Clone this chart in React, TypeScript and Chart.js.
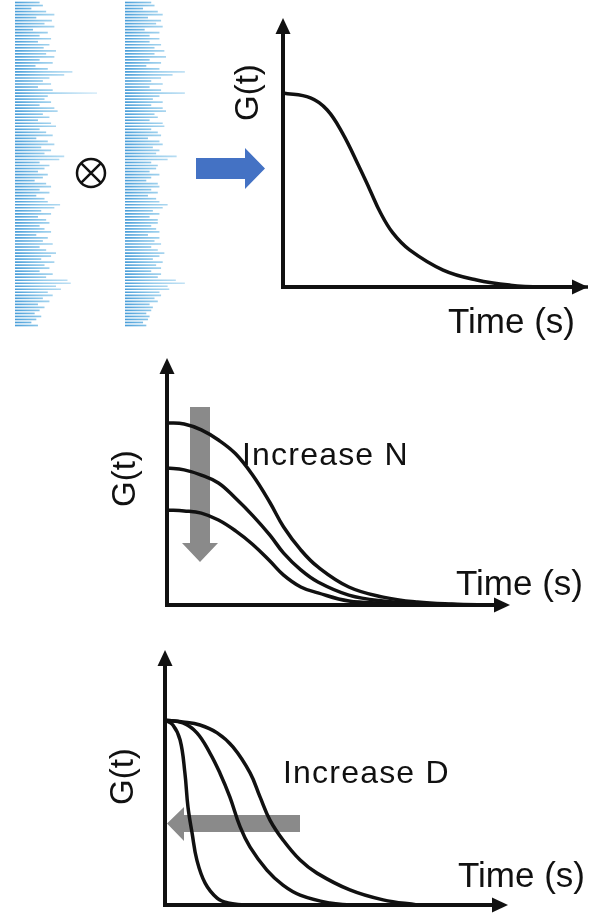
import React, { useEffect, useRef } from "react";
import { Chart, registerables } from "chart.js";

Chart.register(...registerables);

// Fluorescence intensity traces (arbitrary units, 0-100), one sample per time step
const traceA = [
  30, 34, 20, 38, 48, 26, 45, 36, 48, 22, 40, 30, 44, 28, 42, 35, 50, 38, 48, 30,
  46, 25, 40, 70, 60, 42, 34, 44, 28, 46, 100, 40, 36, 44, 30, 48, 52, 34, 42, 28,
  44, 50, 30, 38, 46, 26, 40, 48, 32, 44, 36, 60, 54, 30, 42, 36, 28, 40, 34, 24,
  38, 44, 30, 42, 26, 36, 40, 55, 48, 32, 44, 28, 38, 42, 30, 36, 44, 26, 40, 34,
  46, 30, 38, 50, 44, 32, 48, 36, 42, 30, 46, 38, 64, 68, 50, 56, 40, 46, 34, 42,
  28, 36, 30, 24, 32, 26, 20, 28,
];
const traceB = [
  32, 36, 22, 40, 46, 28, 44, 38, 46, 24, 42, 30, 42, 30, 44, 36, 48, 36, 50, 30,
  44, 26, 42, 73, 58, 44, 32, 46, 30, 44, 73, 42, 34, 46, 32, 46, 50, 36, 40, 30,
  46, 48, 32, 40, 44, 28, 42, 46, 34, 42, 38, 63, 52, 32, 40, 38, 30, 42, 32, 26,
  40, 42, 32, 40, 28, 38, 42, 52, 46, 34, 42, 30, 40, 40, 32, 38, 42, 28, 42, 36,
  44, 32, 40, 48, 42, 34, 46, 38, 44, 32, 44, 40, 62, 73, 52, 54, 42, 44, 36, 40,
  30, 34, 32, 26, 30, 28, 22, 26,
];

// Single autocorrelation curve G(t)
const singleTime = [0, 0.9, 1.45, 1.95, 2.5, 2.85, 3.2, 3.6, 4.15, 5.25, 6.35, 7.45, 8.5, 10];
const singleG = [0.721, 0.703, 0.658, 0.572, 0.446, 0.361, 0.275, 0.201, 0.138, 0.063, 0.026, 0.007, 0, 0];

// G(t) for three particle numbers N (low, mid, high)
const nTime = [0, 0.5, 1, 1.5, 2, 2.5, 3, 3.4, 3.9, 4.4, 5.3, 6.3, 7.3, 8.3, 9.5];
const nLowG = [0.737, 0.733, 0.709, 0.668, 0.612, 0.525, 0.415, 0.316, 0.223, 0.154, 0.073, 0.032, 0.012, 0.004, 0];
const nMidG = [0.555, 0.547, 0.526, 0.494, 0.432, 0.362, 0.283, 0.21, 0.142, 0.093, 0.04, 0.016, 0.008, 0.002, 0];
const nHighG = [0.385, 0.381, 0.372, 0.344, 0.3, 0.245, 0.178, 0.121, 0.073, 0.049, 0.016, 0.008, 0.003, 0.001, 0];

// G(t) for three diffusion coefficients D (fast, mid, slow)
const dFastTime = [0, 0.23, 0.44, 0.58, 0.67, 0.79, 0.93, 1.17, 1.52, 1.84, 2.3];
const dFastG = [0.725, 0.706, 0.647, 0.518, 0.384, 0.282, 0.176, 0.086, 0.027, 0.008, 0];
const dMidTime = [0, 0.52, 0.93, 1.31, 1.6, 1.89, 2.19, 2.48, 2.97, 3.44, 3.94, 4.8, 5.4];
const dMidG = [0.725, 0.714, 0.675, 0.596, 0.518, 0.424, 0.306, 0.227, 0.137, 0.078, 0.039, 0.008, 0];
const dSlowTime = [0, 0.52, 1.02, 1.52, 1.98, 2.48, 2.77, 3.06, 3.44, 3.94, 4.43, 5.39, 6.36, 7.35];
const dSlowG = [0.725, 0.718, 0.706, 0.675, 0.62, 0.518, 0.424, 0.333, 0.255, 0.176, 0.125, 0.059, 0.02, 0];

const yLabel = "G(t)";
const xLabel = "Time (s)";
const nNote = "Increase N";
const dNote = "Increase D";

const INK = "#111111";
const GREY = "#8a8a8a";
const BLUE = "#4472C4";
const FONT = "Liberation Sans, Arial, sans-serif";

const pts = (xs: number[], ys: number[]) => xs.map((x, i) => ({ x, y: ys[i] }));

type Area = { left: number; top: number; right: number; bottom: number };

function drawAxes(ctx: CanvasRenderingContext2D, a: Area) {
  ctx.save();
  ctx.strokeStyle = INK;
  ctx.fillStyle = INK;
  ctx.lineWidth = 4;
  ctx.lineJoin = "miter";
  ctx.beginPath();
  ctx.moveTo(a.left, a.top + 12);
  ctx.lineTo(a.left, a.bottom);
  ctx.lineTo(a.right - 12, a.bottom);
  ctx.stroke();
  ctx.beginPath();
  ctx.moveTo(a.left, a.top);
  ctx.lineTo(a.left - 7.5, a.top + 16);
  ctx.lineTo(a.left + 7.5, a.top + 16);
  ctx.closePath();
  ctx.fill();
  ctx.beginPath();
  ctx.moveTo(a.right, a.bottom);
  ctx.lineTo(a.right - 16, a.bottom - 7.5);
  ctx.lineTo(a.right - 16, a.bottom + 7.5);
  ctx.closePath();
  ctx.fill();
  ctx.restore();
}

function drawText(ctx: CanvasRenderingContext2D, text: string, x: number, y: number, size: number, spacing = 0) {
  ctx.save();
  ctx.fillStyle = INK;
  ctx.font = `${size}px ${FONT}`;
  (ctx as any).letterSpacing = `${spacing}px`;
  ctx.textAlign = "left";
  ctx.textBaseline = "alphabetic";
  ctx.fillText(text, x, y);
  ctx.restore();
}

function drawRotated(ctx: CanvasRenderingContext2D, text: string, x: number, y: number, size: number) {
  ctx.save();
  ctx.translate(x, y);
  ctx.rotate(-Math.PI / 2);
  ctx.fillStyle = INK;
  ctx.font = `${size}px ${FONT}`;
  ctx.textAlign = "left";
  ctx.textBaseline = "alphabetic";
  ctx.fillText(text, 0, 0);
  ctx.restore();
}

function fillPoly(ctx: CanvasRenderingContext2D, color: string, p: number[][]) {
  ctx.save();
  ctx.fillStyle = color;
  ctx.beginPath();
  p.forEach(([x, y], i) => (i ? ctx.lineTo(x, y) : ctx.moveTo(x, y)));
  ctx.closePath();
  ctx.fill();
  ctx.restore();
}

function curveDataset(data: { x: number; y: number }[]) {
  return {
    data,
    borderColor: INK,
    borderWidth: 3.5,
    pointRadius: 0,
    tension: 0.4,
    fill: false,
    clip: false as any,
  };
}

function curveOptions(padding: { left: number; top: number; right: number; bottom: number }) {
  return {
    responsive: false,
    animation: false as const,
    devicePixelRatio: 1,
    events: [],
    layout: { padding },
    scales: {
      x: { type: "linear" as const, display: false, min: 0, max: 10 },
      y: { type: "linear" as const, display: false, min: 0, max: 1 },
    },
    plugins: { legend: { display: false }, tooltip: { enabled: false } },
  };
}

function traceConfig(values: number[]) {
  return {
    type: "bar" as const,
    data: {
      labels: values.map((_, i) => String(i)),
      datasets: [
        {
          data: values,
          barPercentage: 0.55,
          categoryPercentage: 1,
          borderWidth: 0,
          backgroundColor: (c: any) => {
            const { ctx, chartArea } = c.chart;
            if (!chartArea) return "rgba(70,160,215,0.6)";
            const g = ctx.createLinearGradient(chartArea.left, 0, chartArea.right, 0);
            g.addColorStop(0, "rgba(40,140,210,0.85)");
            g.addColorStop(0.35, "rgba(80,170,222,0.6)");
            g.addColorStop(1, "rgba(150,205,238,0.35)");
            return g;
          },
        },
      ],
    },
    options: {
      indexAxis: "y" as const,
      responsive: false,
      animation: false as const,
      devicePixelRatio: 1,
      events: [],
      layout: { padding: { left: 0, right: 2, top: 0, bottom: 0 } },
      scales: {
        x: { display: false, min: 0, max: 100 },
        y: { display: false },
      },
      plugins: { legend: { display: false }, tooltip: { enabled: false } },
    },
  };
}

function topConfig() {
  return {
    type: "line" as const,
    data: { datasets: [curveDataset(pts(singleTime, singleG))] },
    options: curveOptions({ left: 283, top: 18, right: 5, bottom: 58 }),
    plugins: [
      {
        id: "singleCurveDecor",
        afterDatasetsDraw(chart: any) {
          const ctx = chart.ctx as CanvasRenderingContext2D;
          drawAxes(ctx, chart.chartArea);
          drawRotated(ctx, yLabel, 258, 121, 33);
          drawText(ctx, xLabel, 448, 333, 35);
          // correlation operator between the two traces
          ctx.save();
          ctx.strokeStyle = INK;
          ctx.lineWidth = 2.5;
          ctx.beginPath();
          ctx.arc(91, 173, 14, 0, Math.PI * 2);
          ctx.stroke();
          const d = 14 * Math.SQRT1_2;
          ctx.beginPath();
          ctx.moveTo(91 - d, 173 - d);
          ctx.lineTo(91 + d, 173 + d);
          ctx.moveTo(91 + d, 173 - d);
          ctx.lineTo(91 - d, 173 + d);
          ctx.stroke();
          ctx.restore();
          // blue block arrow
          fillPoly(ctx, BLUE, [
            [196, 158], [245, 158], [245, 148], [265, 168.5],
            [245, 189], [245, 179], [196, 179],
          ]);
        },
      },
    ],
  };
}

function numberConfig() {
  return {
    type: "line" as const,
    data: {
      datasets: [
        curveDataset(pts(nTime, nLowG)),
        curveDataset(pts(nTime, nMidG)),
        curveDataset(pts(nTime, nHighG)),
      ],
    },
    options: curveOptions({ left: 167, top: 13, right: 83, bottom: 25 }),
    plugins: [
      {
        id: "numberDecor",
        beforeDatasetsDraw(chart: any) {
          fillPoly(chart.ctx, GREY, [
            [190, 62], [210, 62], [210, 198], [218, 198],
            [200, 217], [182, 198], [190, 198],
          ]);
        },
        afterDatasetsDraw(chart: any) {
          const ctx = chart.ctx as CanvasRenderingContext2D;
          drawAxes(ctx, chart.chartArea);
          drawRotated(ctx, yLabel, 135, 162, 33);
          drawText(ctx, xLabel, 456, 250, 35);
          drawText(ctx, nNote, 242, 120, 32, 1.2);
        },
      },
    ],
  };
}

function diffusionConfig() {
  return {
    type: "line" as const,
    data: {
      datasets: [
        curveDataset(pts(dFastTime, dFastG)),
        curveDataset(pts(dMidTime, dMidG)),
        curveDataset(pts(dSlowTime, dSlowG)),
      ],
    },
    options: curveOptions({ left: 165, top: 20, right: 85, bottom: 17 }),
    plugins: [
      {
        id: "diffusionDecor",
        beforeDatasetsDraw(chart: any) {
          fillPoly(chart.ctx, GREY, [
            [300, 185], [184, 185], [184, 177], [167, 193.5],
            [184, 211], [184, 202], [300, 202],
          ]);
        },
        afterDatasetsDraw(chart: any) {
          const ctx = chart.ctx as CanvasRenderingContext2D;
          drawAxes(ctx, chart.chartArea);
          drawRotated(ctx, yLabel, 133, 175, 33);
          drawText(ctx, xLabel, 458, 257, 35);
          drawText(ctx, dNote, 283, 153, 32, 1.2);
        },
      },
    ],
  };
}

function ChartCanvas(props: {
  make: () => any;
  left: number;
  top: number;
  width: number;
  height: number;
  filter?: string;
}) {
  const ref = useRef<HTMLCanvasElement>(null);
  useEffect(() => {
    const chart = new Chart(ref.current as HTMLCanvasElement, props.make());
    return () => chart.destroy();
  }, []);
  return (
    <canvas
      ref={ref}
      width={props.width}
      height={props.height}
      style={{
        position: "absolute",
        left: props.left,
        top: props.top,
        width: props.width,
        height: props.height,
        filter: props.filter,
        display: "block",
      }}
    />
  );
}

export default function App() {
  return (
    <div
      style={{
        position: "absolute",
        left: 0,
        top: 0,
        width: 593,
        height: 922,
        background: "#ffffff",
        overflow: "hidden",
      }}
    >
      <ChartCanvas make={topConfig} left={0} top={0} width={593} height={345} />
      <ChartCanvas make={numberConfig} left={0} top={345} width={593} height={285} />
      <ChartCanvas make={diffusionConfig} left={0} top={630} width={593} height={292} />
      <ChartCanvas make={() => traceConfig(traceA)} left={15} top={1} width={84} height={326} filter="blur(0.5px)" />
      <ChartCanvas make={() => traceConfig(traceB)} left={125} top={1} width={84} height={326} filter="blur(0.5px)" />
    </div>
  );
}
